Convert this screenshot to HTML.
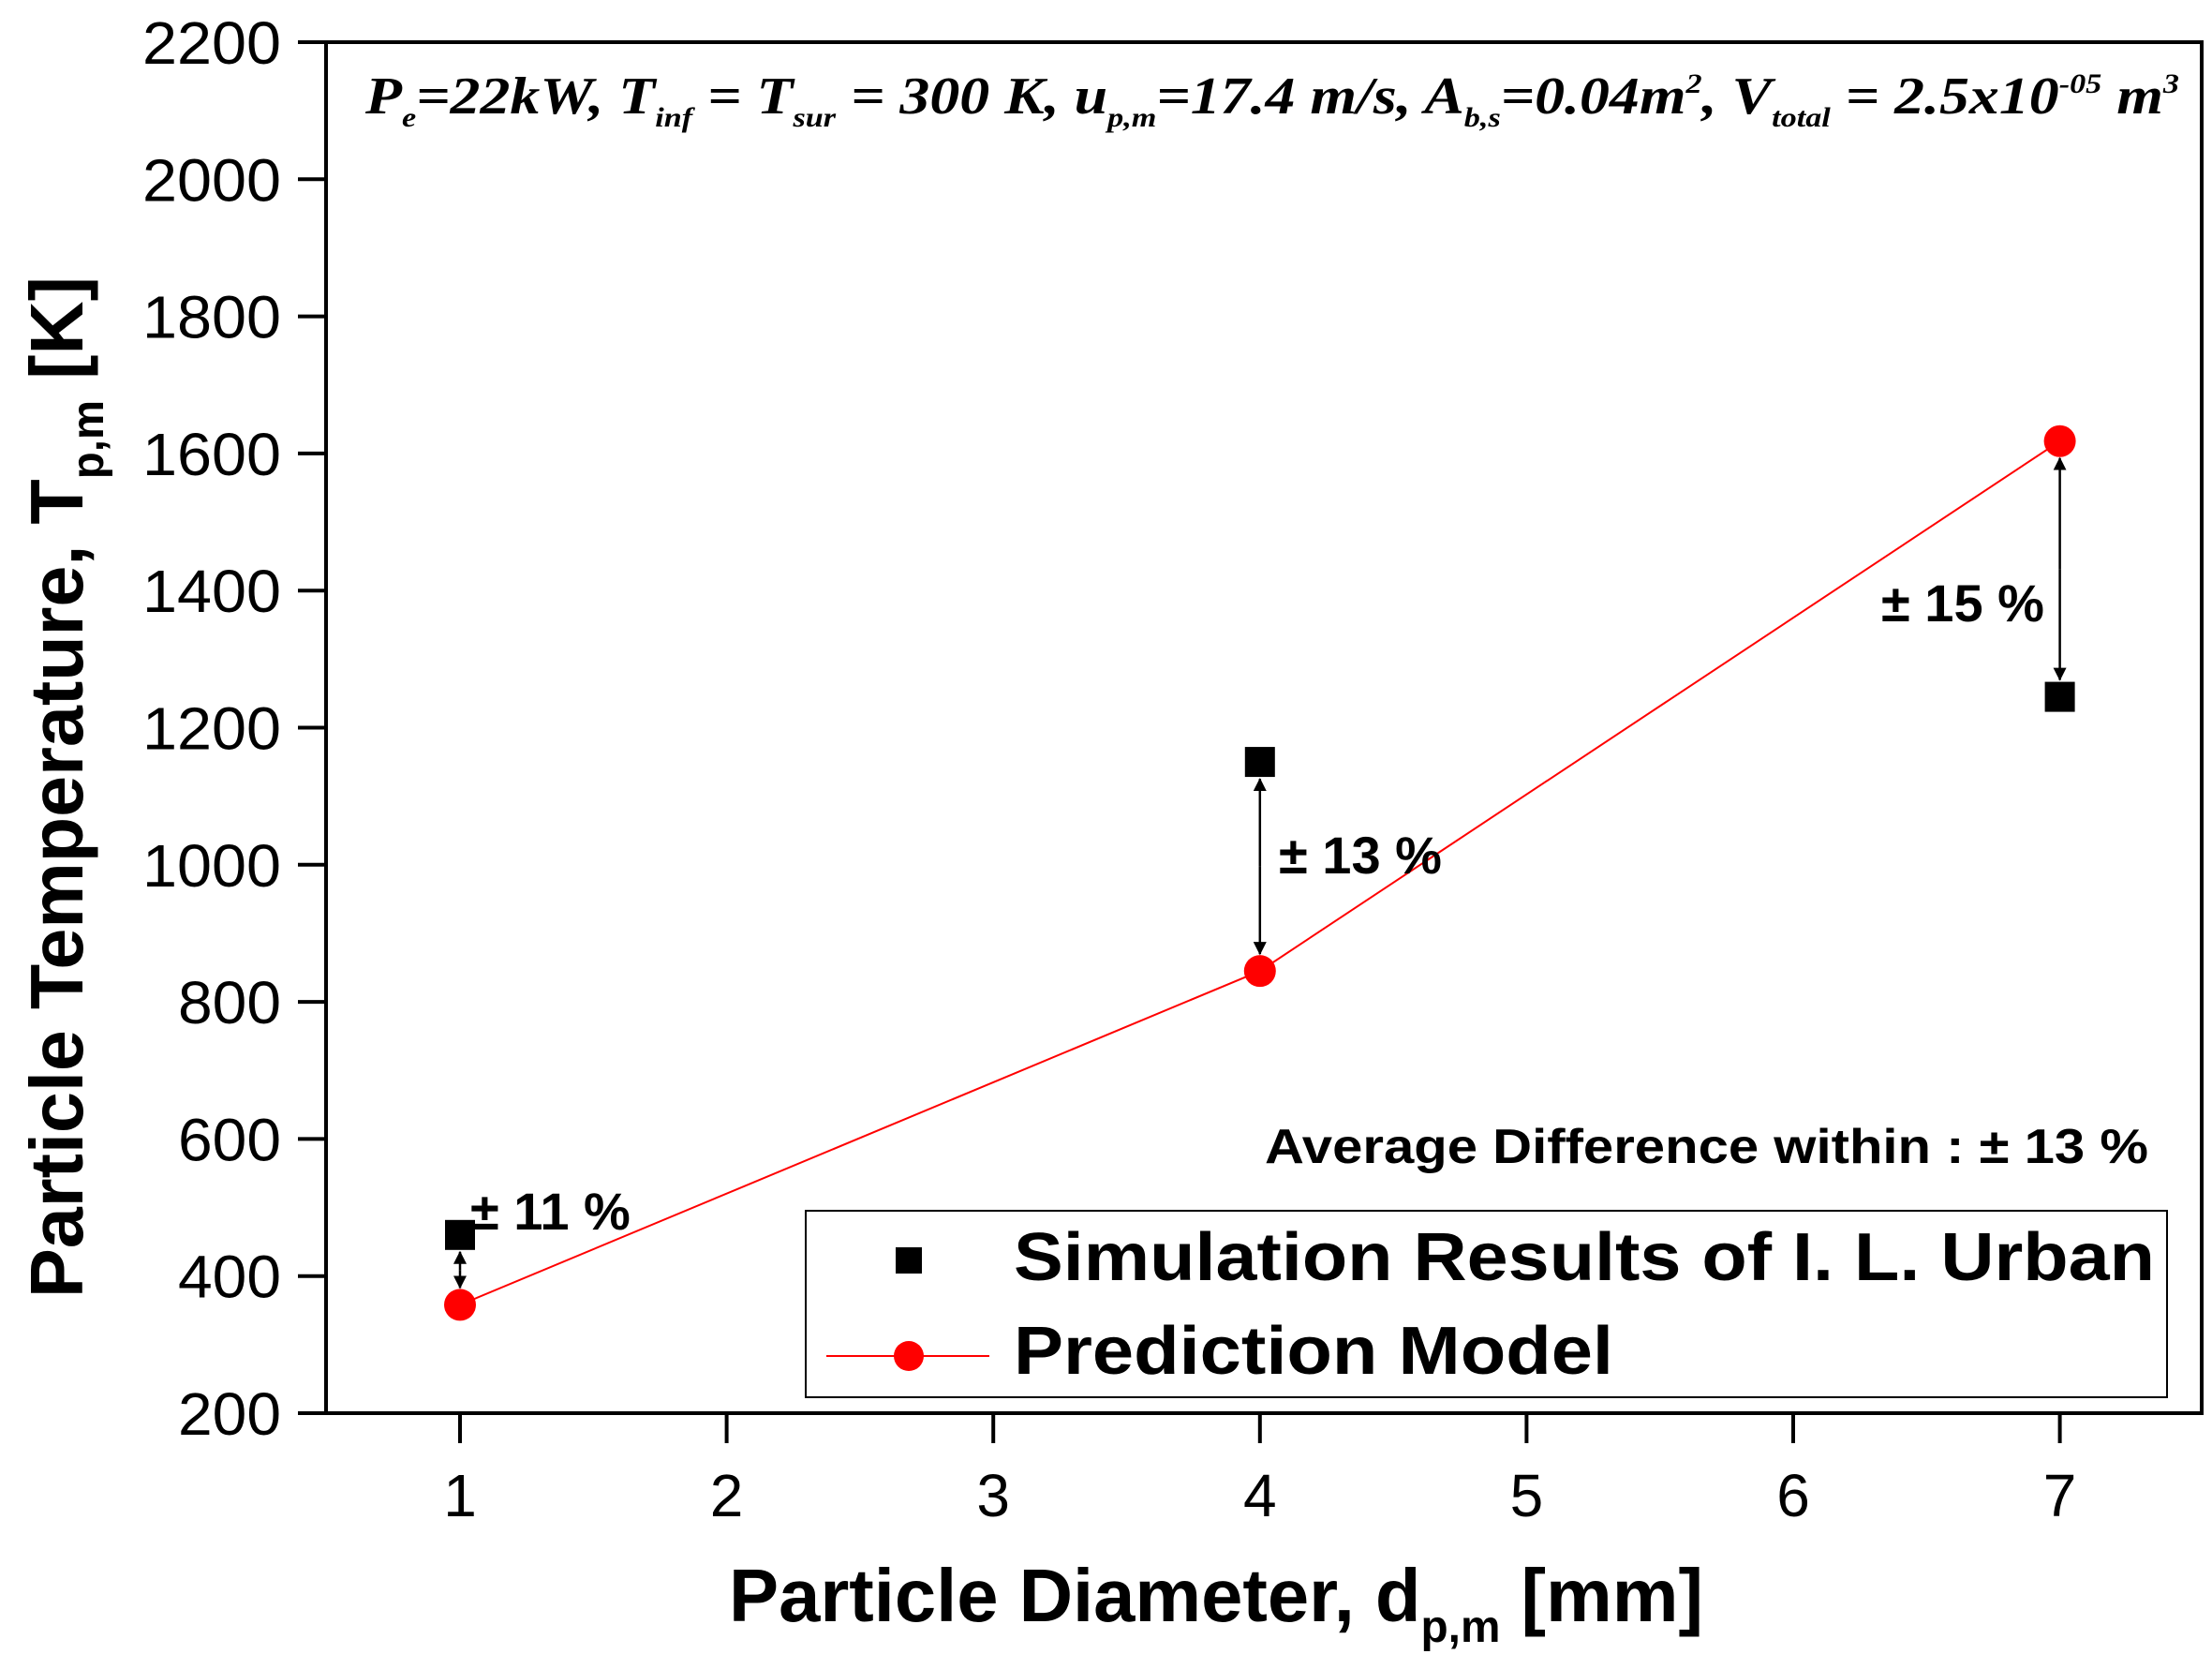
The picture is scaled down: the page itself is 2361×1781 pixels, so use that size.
<!DOCTYPE html>
<html><head><meta charset="utf-8"><style>body{margin:0;background:#fff}svg{display:block}</style></head>
<body>
<svg id="chart" width="2361" height="1781" xmlns="http://www.w3.org/2000/svg" font-family="Liberation Sans, sans-serif">
<defs>
<marker id="ah" markerWidth="14" markerHeight="14" refX="13" refY="7" orient="auto" markerUnits="userSpaceOnUse" viewBox="0 0 14 14"><path d="M0,0 L14,7 L0,14 z" fill="#000"/></marker>
</defs>
<g id="plot"></g>
</svg>
<script>
const xCats=[1,4,7];
const simValues=[460,1150,1245];
const predValues=[358,845,1618];
const xTicks=[1,2,3,4,5,6,7];
const yTicks=[200,400,600,800,1000,1200,1400,1600,1800,2000,2200];
const diffLabels=["± 11 %","± 13 %","± 15 %"];

const L=348,R=2350,T=45,B=1508;
const X=v=>491+(v-1)*284.6;
const Y=v=>B-(v-200)/2000*(B-T);
const NS="http://www.w3.org/2000/svg";
const g=document.getElementById('plot');
function el(t,a,txt){const e=document.createElementNS(NS,t);for(const k in a)e.setAttribute(k,a[k]);if(txt!==undefined)e.textContent=txt;g.appendChild(e);return e;}

let e=el('rect',{x:L,y:T,width:R-L,height:B-T,fill:'none',stroke:'#000','stroke-width':4});



xTicks.forEach(v=>{
  let t=el('line',{x1:X(v),x2:X(v),y1:B,y2:B+32,stroke:'#000','stroke-width':4});
  
  
  let l=el('text',{x:X(v),y:1618,'font-size':64,'text-anchor':'middle'},String(v));
  
  
});
yTicks.forEach(v=>{
  let t=el('line',{x1:L-30,x2:L,y1:Y(v),y2:Y(v),stroke:'#000','stroke-width':4});
  
  
  let l=el('text',{x:300,y:Y(v)+23,'font-size':64,'text-anchor':'end',textLength:v>=1000?148:110,lengthAdjust:'spacingAndGlyphs'},String(v));
  
  
});

let pts=xCats.map((x,i)=>X(x)+','+Y(predValues[i])).join(' ');
e=el('polyline',{points:pts,fill:'none',stroke:'#f00','stroke-width':2});



const labPos=[[502,1312],[1365,932],[2008,663]];
xCats.forEach((x,i)=>{
  const ys=Y(simValues[i]),yp=Y(predValues[i]);
  const dir=ys<yp?1:-1;
  const a=ys+dir*18,b=yp-dir*18;
  let ar=el('line',{x1:X(x),x2:X(x),y1:(a+b)/2,y2:b,stroke:'#000','stroke-width':2.5,'marker-end':'url(#ah)'});
  
  
  let ar2=el('line',{x1:X(x),x2:X(x),y1:(a+b)/2,y2:a,stroke:'#000','stroke-width':2.5,'marker-end':'url(#ah)'});
  
  
  let tx=el('text',{x:labPos[i][0],y:labPos[i][1],'font-size':56,'font-weight':'bold'},diffLabels[i]);
  
  
});

xCats.forEach((x,i)=>{
  let s=el('rect',{x:X(x)-16,y:Y(simValues[i])-16,width:32,height:32,fill:'#000'});
  
  
  let c=el('circle',{cx:X(x),cy:Y(predValues[i]),r:17,fill:'#f00'});
  
  
});

e=el('text',{x:390,y:121,'font-size':56,'font-family':'Liberation Serif, serif','font-style':'italic','font-weight':'bold',textLength:1936,lengthAdjust:'spacingAndGlyphs'});
e.innerHTML='P<tspan font-size="30" dy="14">e</tspan><tspan dy="-14">=22kW, T</tspan><tspan font-size="30" dy="14">inf</tspan><tspan dy="-14"> = T</tspan><tspan font-size="30" dy="14">sur</tspan><tspan dy="-14"> = 300 K, u</tspan><tspan font-size="30" dy="14">p,m</tspan><tspan dy="-14">=17.4 m/s, A</tspan><tspan font-size="30" dy="14">b,s</tspan><tspan dy="-14">=0.04m</tspan><tspan font-size="30" dy="-22">2</tspan><tspan dy="22">, V</tspan><tspan font-size="30" dy="14">total</tspan><tspan dy="-14"> = 2.5x10</tspan><tspan font-size="30" dy="-22">-05</tspan><tspan dy="22"> m</tspan><tspan font-size="30" dy="-22">3</tspan>';



e=el('text',{x:1350,y:1241,'font-size':52,'font-weight':'bold',textLength:943,lengthAdjust:'spacingAndGlyphs'},'Average Difference within : ± 13 %');



e=el('rect',{x:860,y:1292,width:1453,height:199,fill:'#fff',stroke:'#000','stroke-width':2});


e=el('rect',{x:956,y:1331,width:28,height:28,fill:'#000'});


e=el('line',{x1:882,x2:1056,y1:1447,y2:1447,stroke:'#f00','stroke-width':2});


e=el('circle',{cx:970,cy:1447,r:16,fill:'#f00'});


e=el('text',{x:1082,y:1366,'font-size':72,'font-weight':'bold',textLength:1218,lengthAdjust:'spacingAndGlyphs'},'Simulation Results of I. L. Urban');


e=el('text',{x:1082,y:1466,'font-size':72,'font-weight':'bold',textLength:640,lengthAdjust:'spacingAndGlyphs'},'Prediction Model');



e=el('text',{x:778,y:1730,'font-size':80,'font-weight':'bold',textLength:1040,lengthAdjust:'spacingAndGlyphs'});
e.innerHTML='Particle Diameter, d<tspan font-size="48" dy="22">p,m</tspan><tspan dy="-22"> [mm]</tspan>';


e=el('text',{x:0,y:0,'font-size':80,'font-weight':'bold',textLength:1090,lengthAdjust:'spacingAndGlyphs',transform:'translate(88,1385) rotate(-90)'});
e.innerHTML='Particle Temperature, T<tspan font-size="48" dy="22">p,m</tspan><tspan dy="-22"> [K]</tspan>';


</script>
</body></html>
